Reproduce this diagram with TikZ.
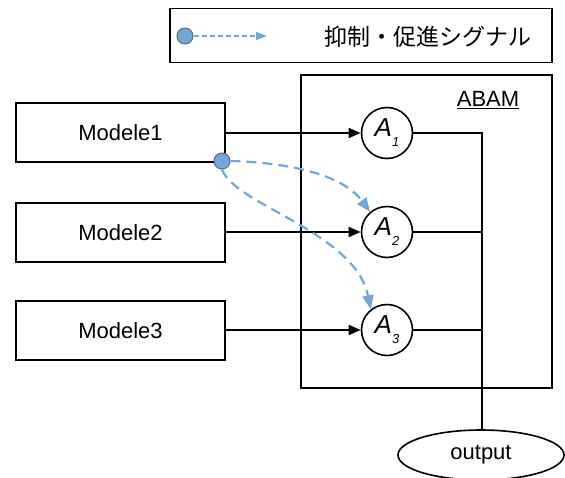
\documentclass[tikz,border=0pt]{standalone}
\usepackage{fontspec}
\setmainfont{Liberation Sans}
\newfontfamily\cjk{Noto Sans CJK JP}
\usetikzlibrary{arrows.meta,shapes.geometric}
\definecolor{sig}{HTML}{6FA8DC}
\newcommand{\anlabel}[1]{\raisebox{-4pt}{A\raisebox{-10pt}{\fontsize{13}{14}\selectfont #1}}}
\tikzset{
  x=1pt,y=-1pt,
  mbox/.style={draw,line width=1.6pt,minimum width=209pt,minimum height=59pt,font=\fontsize{22}{24}\selectfont},
  anode/.style={draw,circle,line width=1.6pt,minimum size=51pt,inner sep=0pt,font=\fontsize{26}{28}\selectfont\itshape},
  link/.style={line width=1.6pt,-{Triangle[length=12pt,width=10pt]}},
  plain/.style={line width=1.6pt},
  sigl/.style={draw=sig,line width=2.2pt,dash pattern=on 10pt off 6pt,-{Triangle[length=14pt,width=11pt]}},
  sigdot/.style={circle,fill=sig,draw=gray!80!black,line width=1pt,minimum size=16pt,inner sep=0pt},
}
\begin{document}
\begin{tikzpicture}
\useasboundingbox (0,0) rectangle (565,477);
% legend
\node[draw,line width=1.6pt,minimum width=382pt,minimum height=54pt,inner sep=0pt] (leg) at (361,35.5) {};
\node[sigdot] (ldot) at (185,36) {};
\coordinate (lend) at (267,36);
\draw[draw=sig,line width=1.3pt,dash pattern=on 5pt off 3pt,-{Triangle[length=11pt,width=8pt]}] (ldot) -- (lend);
\node[font=\cjk\fontsize{23}{25}\selectfont] (legt) at (427.5,37) {抑制・促進シグナル};
% ABAM box
\node[draw,line width=1.6pt,minimum width=251pt,minimum height=313pt,inner sep=0pt] (abam) at (426.5,231.5) {};
\node[font=\fontsize{22}{24}\selectfont] (abamt) at (488,100) {\underline{ABAM}};
% models
\node[mbox] (m1) at (120.5,132.5) {Modele1};
\node[mbox] (m2) at (120.5,232.5) {Modele2};
\node[mbox] (m3) at (120.5,330.5) {Modele3};
% A nodes
\node[anode] (a1) at (387,133) {\anlabel{1}};
\node[anode] (a2) at (387,232) {\anlabel{2}};
\node[anode] (a3) at (387,330) {\anlabel{3}};
\draw[link] (m1.east |- a1) -- (a1);
\draw[link] (m2.east |- a2) -- (a2);
\draw[link] (m3.east |- a3) -- (a3);
% output
\node[draw,ellipse,line width=1.6pt,minimum width=166pt,minimum height=50pt,inner sep=0pt,font=\fontsize{22}{24}\selectfont] (out) at (481,455) {output};
\coordinate (j1) at (482,133);
\coordinate (j2) at (482,232);
\coordinate (j3) at (482,330);
\draw[plain] (a1) -- (j1) -- (out.north -| j1);
\draw[plain] (a2) -- (j2);
\draw[plain] (a3) -- (j3);
% signals
\node[sigdot] (dot) at (222,161) {};
\draw[sigl] (dot.east) .. controls (300,163) and (345,178) .. (a2.130);
\draw[sigl] (dot.south) .. controls (235,205) and (355,232) .. (a3.128);
\end{tikzpicture}
\end{document}
